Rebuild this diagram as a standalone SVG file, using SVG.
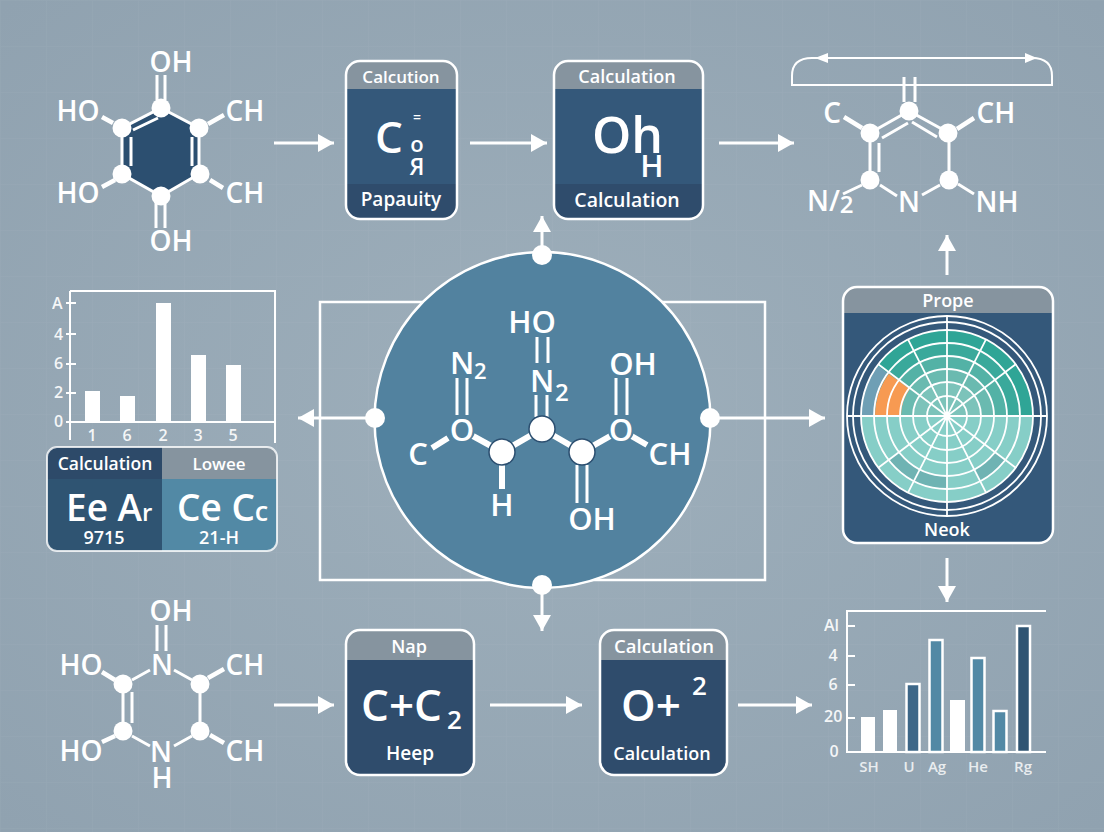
<svg xmlns="http://www.w3.org/2000/svg" width="1104" height="832" viewBox="0 0 1104 832">
<style>
text{font-family:"Open Sans","Noto Sans","Liberation Sans",sans-serif;fill:#fff;font-weight:600}
.m{text-anchor:middle}
.a{font-size:28px}.c{font-size:31px}
.h{font-size:18px}.t{font-size:16px;opacity:.9}.u{font-size:15px;opacity:.8}
.b{stroke:#fff;stroke-width:3;fill:none}
.thin{stroke:#fff;stroke-width:2;fill:none}
.b4{stroke:#fff;stroke-width:4.500;fill:none}
.b5{stroke:#fff;stroke-width:6;fill:none}
.n{fill:#fff}
.conn{stroke:#fff;stroke-width:2.500;fill:none}
.arrow{stroke-width:3;marker-end:url(#ah)}
.panel{fill:#34587a}
.head{fill:#86949f}
.foot{fill:#2f4c6c}
.frame{fill:none;stroke:#fff;stroke-width:2.500}
.ring{fill:none;stroke:#fff;stroke-width:1.800}
.sp{stroke:#fff;stroke-width:1.800}
.bar{fill:#fff}
.bw{stroke:#fff;stroke-width:2.500}
</style>
<defs>
<marker id="ah" markerUnits="userSpaceOnUse" markerWidth="17" markerHeight="20" viewBox="0 0 17 20" refX="16" refY="10" orient="auto"><path d="M0 1L16 10L0 19Z" fill="#fff"/></marker>
<radialGradient id="bg" cx="50%" cy="50%" r="70%"><stop offset="0" stop-color="#9eafbb"/><stop offset="1" stop-color="#90a2b0"/></radialGradient>
<pattern id="grid" width="46" height="46" patternUnits="userSpaceOnUse"><path d="M46 0H0V46" fill="none" stroke="#fff" stroke-opacity=".035" stroke-width="1.500"/></pattern>
<clipPath id="c1"><rect x="346" y="61" width="111" height="158" rx="14"/></clipPath>
<clipPath id="c2"><rect x="554" y="61" width="149" height="158" rx="14"/></clipPath>
<clipPath id="c3"><rect x="346" y="630" width="128" height="145" rx="14"/></clipPath>
<clipPath id="c4"><rect x="600" y="630" width="127" height="145" rx="14"/></clipPath>
<clipPath id="c5"><rect x="843" y="287" width="210" height="256" rx="14"/></clipPath>
<clipPath id="c6"><rect x="47" y="447" width="230" height="104" rx="10"/></clipPath>
</defs>
<rect width="1104" height="832" fill="url(#bg)"/>
<rect width="1104" height="832" fill="url(#grid)"/>

<g id="connectors">
<rect x="320" y="302" width="445" height="278" class="conn"/>
<path class="conn arrow" d="M274 143H334"/>
<path class="conn arrow" d="M470 143H547"/>
<path class="conn arrow" d="M719 143H794"/>
<path class="conn arrow" d="M274 705H334"/>
<path class="conn arrow" d="M490 705H582"/>
<path class="conn arrow" d="M738 705H812"/>
<path class="conn arrow" d="M947 275V235"/>
<path class="conn arrow" d="M947 558V602"/>
<path class="conn arrow" d="M375 418H298"/>
<path class="conn arrow" d="M711 418H825"/>
<path class="conn arrow" d="M542 255V216"/>
<path class="conn arrow" d="M542 585V631"/>
</g>

<g id="mol-top-left">
<path d="M161 108L199 128V174L161 196L122 174V128Z" fill="#2c4f70" stroke="#fff" stroke-width="3"/>
<path class="b" d="M133 130L158 118M131 137V166M192 137V166"/>
<path class="b" d="M157 75V100M165 75V100M156 197V228M165 197V228"/>
<path class="b4" d="M102 117L113 123M224 115L208 124M102 187L115 180M223 188L210 180"/>
<circle class="n" cx="161" cy="108" r="9.500"/><circle class="n" cx="122" cy="128" r="9.500"/><circle class="n" cx="199" cy="128" r="9.500"/><circle class="n" cx="122" cy="174" r="9.500"/><circle class="n" cx="200" cy="174" r="9.500"/><circle class="n" cx="161" cy="196" r="9.500"/>
<text class="a m" x="171" y="72">OH</text><text class="a m" x="78" y="121">HO</text><text class="a m" x="245" y="121">CH</text><text class="a m" x="78" y="203">HO</text><text class="a m" x="245" y="203">CH</text><text class="a m" x="171" y="251">OH</text>
</g>

<g id="panel-1">
<g clip-path="url(#c1)"><rect x="346" y="61" width="111" height="158" class="panel"/><rect x="346" y="61" width="111" height="28" class="head"/><rect x="346" y="184" width="111" height="35" class="foot"/></g>
<rect x="346" y="61" width="111" height="158" rx="14" class="frame"/>
<text class="m" x="401" y="83" font-size="17">Calcution</text>
<text x="375" y="153" font-size="44">C</text>
<text class="m" x="417" y="122" font-size="14">=</text>
<text class="m" x="417" y="152" font-size="22">o</text>
<text class="m" x="417" y="175" font-size="23">Я</text>
<text class="m" x="401" y="206" font-size="19">Papauity</text>
</g>

<g id="panel-2">
<g clip-path="url(#c2)"><rect x="554" y="61" width="149" height="158" class="panel"/><rect x="554" y="61" width="149" height="28" class="head"/><rect x="554" y="184" width="149" height="35" class="foot"/></g>
<rect x="554" y="61" width="149" height="158" rx="14" class="frame"/>
<text class="h m" x="627" y="83">Calculation</text>
<text x="592" y="153" font-size="50">Oh</text>
<text class="m" x="652" y="177" font-size="31">H</text>
<text class="m" x="627" y="207" font-size="19.500">Calculation</text>
</g>

<g id="mol-top-right">
<path class="thin" d="M792 85V76Q792 58 812 58H1032Q1052 58 1052 76V85Z"/>
<path d="M815 58L828 53V63ZM1037 58L1025 53V63Z" fill="#fff"/>
<path class="b" d="M904 77V102M915 77V102M870 133L909 111L949 133M882 138L908 123M912 122L937 137M870 133V180M879 143V172M949 133V180M880 185L897 196M922 195L940 185M958 184L974 194M862 185L843 194"/>
<path class="b4" d="M844 117L862 128M957 129L974 118"/>
<circle class="n" cx="909" cy="111" r="9.500"/><circle class="n" cx="870" cy="133" r="9.500"/><circle class="n" cx="948" cy="133" r="9.500"/><circle class="n" cx="870" cy="180" r="9.500"/><circle class="n" cx="949" cy="180" r="9.500"/>
<text class="a m" x="832" y="123">C</text><text class="a m" x="996" y="123">CH</text>
<text x="807" y="211" font-size="28">N/<tspan font-size="24" dy="2">2</tspan></text>
<text class="a m" x="909" y="212">N</text><text class="a m" x="997" y="212">NH</text>
</g>

<g id="chart-left">
<path class="thin" d="M70 291H275V443M70 291V440M66 303H76M66 334H76M66 364H76M66 393H76M66 422H275"/>
<rect class="bar" x="85" y="391" width="15" height="31"/><rect class="bar" x="120" y="396" width="15" height="26"/><rect class="bar" x="156" y="303" width="15" height="119"/><rect class="bar" x="191" y="355" width="15" height="67"/><rect class="bar" x="226" y="365" width="15" height="57"/>
<text class="t" x="52" y="309">A</text><text class="t" x="54" y="340">4</text><text class="t" x="54" y="369">6</text><text class="t" x="54" y="398">2</text><text class="t" x="54" y="427">0</text>
<text class="t m" x="92" y="441">1</text><text class="t m" x="127" y="441">6</text><text class="t m" x="163" y="441">2</text><text class="t m" x="198" y="441">3</text><text class="t m" x="233" y="441">5</text>
</g>

<g id="table-left">
<g clip-path="url(#c6)"><rect x="47" y="447" width="115" height="104" fill="#2f5472"/><rect x="162" y="447" width="115" height="104" fill="#5289a5"/><rect x="47" y="447" width="115" height="32" fill="#2d4a69"/><rect x="162" y="447" width="115" height="32" fill="#86949f"/></g>
<rect x="47" y="447" width="230" height="104" rx="10" fill="none" stroke="#fff" stroke-width="2" stroke-opacity=".8"/>
<text class="m" x="105" y="470" font-size="17.500">Calculation</text>
<text class="m" x="219" y="470" font-size="17">Lowee</text>
<text x="66" y="521" font-size="37">Ee A<tspan font-size="24">r</tspan></text>
<text class="m" x="104" y="544" font-size="18">9715</text>
<text x="177" y="521" font-size="37">Ce C<tspan font-size="27">c</tspan></text>
<text class="m" x="219" y="544" font-size="18">21-H</text>
</g>

<g id="center-hub">
<circle cx="542.500" cy="420" r="168" fill="#52829f" stroke="#fff" stroke-width="2.500"/>
<circle class="n" cx="375" cy="418" r="10"/><circle class="n" cx="710" cy="418" r="10"/><circle class="n" cx="542" cy="255" r="10"/><circle class="n" cx="542" cy="585" r="10"/>
<path class="b" d="M457 378V415M467 378V415M537 337V363M548 337V363M536 395V417M547 395V417M616 378V415M627 378V415M577 465V503M587 465V503"/>
<path class="b5" d="M432 448L448 438M462 430L502 452L542 429L582 452L621 430L647 445M502 465V489"/>
<circle cx="462" cy="430" r="13" fill="#52829f"/><circle cx="621" cy="430" r="13" fill="#52829f"/>
<circle cx="502" cy="452" r="13" fill="#fff" stroke="#2c4f70" stroke-width="1.500"/><circle cx="542" cy="429" r="13" fill="#fff" stroke="#2c4f70" stroke-width="1.500"/><circle cx="582" cy="452" r="13" fill="#fff" stroke="#2c4f70" stroke-width="1.500"/>
<text class="c m" x="532" y="333">HO</text>
<text x="450" y="374" font-size="31">N</text><text x="474" y="379" font-size="22">2</text>
<text x="530" y="392" font-size="31">N</text><text x="555" y="401" font-size="24">2</text>
<text class="c m" x="633" y="375">OH</text>
<text class="m" x="462" y="441" font-size="31">O</text><text class="m" x="621" y="441" font-size="31">O</text>
<text class="c m" x="418" y="465">C</text><text class="c m" x="670" y="465">CH</text>
<text class="c m" x="502" y="516">H</text><text class="c m" x="592" y="530">OH</text>
</g>

<g id="panel-radar">
<g clip-path="url(#c5)"><rect x="843" y="287" width="210" height="256" fill="#34587a"/><rect x="843" y="287" width="210" height="26" class="head"/></g>
<rect x="843" y="287" width="210" height="256" rx="14" class="frame"/>
<path d="M861 416A86 86 0 0 1 1033 416Z" fill="#2fa596"/>
<path d="M874 416A73 73 0 0 1 1020 416Z" fill="#3aa99b"/>
<path d="M887 416A60 60 0 0 1 1007 416Z" fill="#53b2a6"/>
<path d="M900 416A47 47 0 0 1 994 416Z" fill="#6abab0"/>
<path d="M913 416A34 34 0 0 1 981 416Z" fill="#7cc3ba"/>
<path d="M861 416A86 86 0 0 0 1033 416Z" fill="#86cec7"/>
<path d="M947 476L947 489A73 73 0 0 1 913.900 481L919.800 469.500A60 60 0 0 0 947 476Z" fill="#6fb3b3"/>
<path d="M913.900 481A73 73 0 0 1 888.700 460L899.100 452.100A60 60 0 0 0 919.800 469.500Z" fill="#6fb3b3"/>
<path d="M980.100 481A73 73 0 0 0 1005.300 460L994.900 452.100A60 60 0 0 1 974.200 469.500Z" fill="#6fb3b3"/>
<path d="M861 416A86 86 0 0 1 877.400 365.400L888.800 373.700A72 72 0 0 0 875 416Z" fill="#6f9fb5"/>
<path d="M875 416A72 72 0 0 1 888.800 373.700L909.800 389A46 46 0 0 0 901 416Z" fill="#f79a52"/>
<circle class="ring" cx="947" cy="416" r="100"/><circle class="ring" cx="947" cy="416" r="94"/><circle class="ring" cx="947" cy="416" r="73"/><circle class="ring" cx="947" cy="416" r="60"/><circle class="ring" cx="947" cy="416" r="47"/><circle class="ring" cx="947" cy="416" r="34"/><circle class="ring" cx="947" cy="416" r="20"/><circle class="ring" cx="947" cy="416" r="86"/>
<path class="sp" d="M947 316V516M847 416H1047M908 339.400L986 492.600M986 339.400L908 492.600M878.300 364.200L1015.700 467.800M1015.700 364.200L878.300 467.800"/>
<text class="h m" x="948" y="307">Prope</text>
<text class="h m" x="947" y="536">Neok</text>
</g>

<g id="chart-right">
<path class="thin" d="M1046 611H847V752H1046M847 626H855M847 656H855M847 685H855M847 718H855"/>
<rect class="bar" x="861" y="717" width="14" height="35"/><rect class="bar" x="883" y="710" width="14" height="42"/>
<rect class="bw" x="906.500" y="684" width="13" height="68" fill="#3d6788"/>
<rect class="bw" x="929.500" y="640" width="13" height="112" fill="#5289a5"/>
<rect class="bar" x="950" y="700" width="15" height="52"/>
<rect class="bw" x="971.500" y="658" width="13" height="94" fill="#5289a5"/>
<rect class="bw" x="993.500" y="711" width="13" height="41" fill="#5289a5"/>
<rect class="bw" x="1017" y="626" width="13" height="126" fill="#2f5472"/>
<text class="t" x="824" y="631">Al</text><text class="t m" x="833" y="661">4</text><text class="t m" x="833" y="690">6</text><text class="t" x="824" y="722">20</text><text class="t m" x="834" y="757">0</text>
<text class="u m" x="869" y="772">SH</text><text class="u m" x="909" y="772">U</text><text class="u m" x="937" y="772">Ag</text><text class="u m" x="978" y="772">He</text><text class="u m" x="1023" y="772">Rg</text>
</g>

<g id="panel-3">
<g clip-path="url(#c3)"><rect x="346" y="630" width="128" height="145" class="foot"/><rect x="346" y="630" width="128" height="30" class="head"/></g>
<rect x="346" y="630" width="128" height="145" rx="14" class="frame"/>
<text class="m" x="409" y="653" font-size="18">Nap</text>
<text x="361" y="721" font-size="44">C+C</text><text x="447" y="729" font-size="26">2</text>
<text class="m" x="410" y="760" font-size="19">Heep</text>
</g>

<g id="panel-4">
<g clip-path="url(#c4)"><rect x="600" y="630" width="127" height="145" class="foot"/><rect x="600" y="630" width="127" height="30" class="head"/></g>
<rect x="600" y="630" width="127" height="145" rx="14" class="frame"/>
<text class="m" x="664" y="653" font-size="18.500">Calculation</text>
<text x="621" y="721" font-size="44">O+</text><text x="692" y="695" font-size="26">2</text>
<text class="m" x="662" y="760" font-size="18">Calculation</text>
</g>

<g id="mol-bottom-left">
<path class="b" d="M157 625V651M166 625V651M123 684V731M132 692V723M200 684V731M132 680L150 670M174 670L192 680M132 736L150 746M174 746L192 736"/>
<path class="b4" d="M102 672L115 680M224 669L208 678M102 742L115 736M224 743L210 735"/>
<circle class="n" cx="123" cy="684" r="9.500"/><circle class="n" cx="200" cy="684" r="9.500"/><circle class="n" cx="123" cy="731" r="9.500"/><circle class="n" cx="200" cy="731" r="9.500"/>
<text class="a m" x="171" y="621">OH</text><text class="a m" x="81" y="675">HO</text><text class="a m" x="162" y="675">N</text><text class="a m" x="245" y="675">CH</text>
<text class="a m" x="81" y="761">HO</text><text class="a m" x="161" y="762">N</text><text class="a m" x="245" y="761">CH</text><text class="a m" x="162" y="788">H</text>
</g>
</svg>
